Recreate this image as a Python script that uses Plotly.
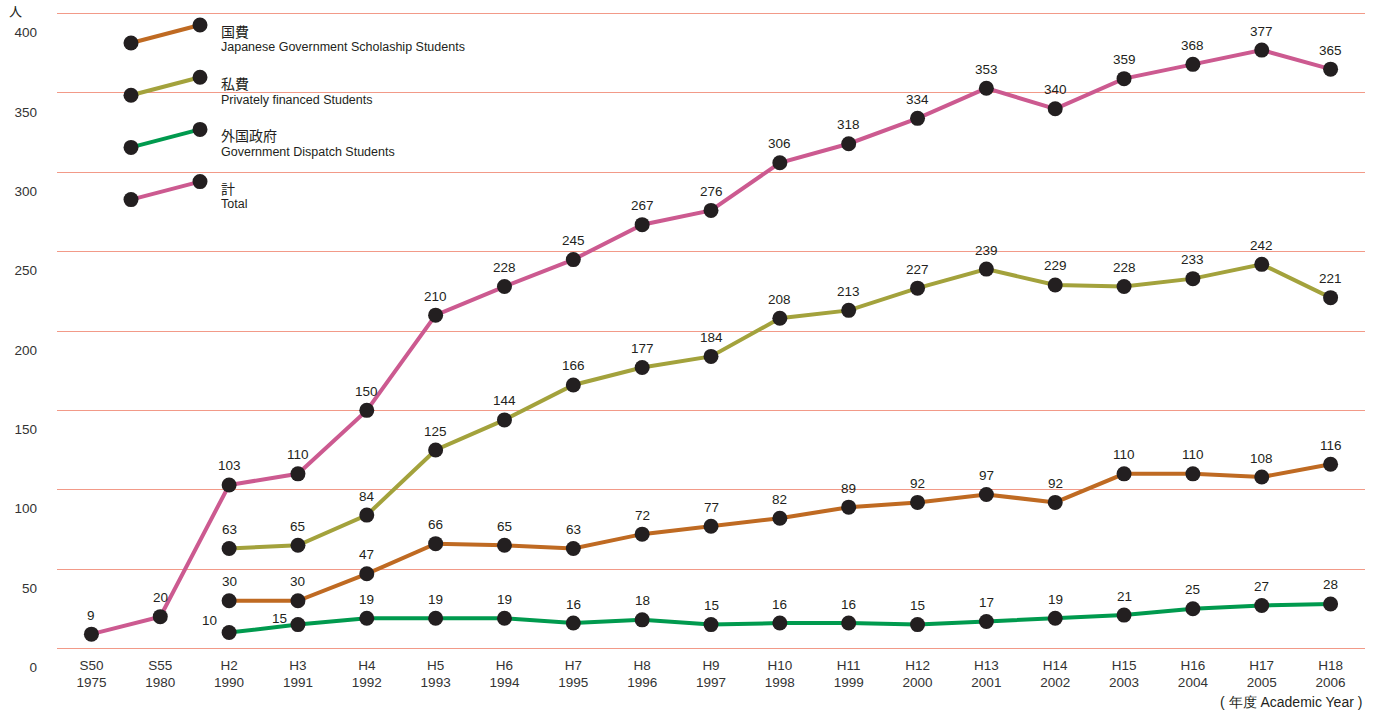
import plotly.graph_objects as go

categories = ["S50<br>1975", "S55<br>1980", "H2<br>1990", "H3<br>1991", "H4<br>1992", "H5<br>1993",
              "H6<br>1994", "H7<br>1995", "H8<br>1996", "H9<br>1997", "H10<br>1998", "H11<br>1999",
              "H12<br>2000", "H13<br>2001", "H14<br>2002", "H15<br>2003", "H16<br>2004", "H17<br>2005",
              "H18<br>2006"]

total = [9, 20, 103, 110, 150, 210, 228, 245, 267, 276, 306, 318, 334, 353, 340, 359, 368, 377, 365]
private = [None, None, 63, 65, 84, 125, 144, 166, 177, 184, 208, 213, 227, 239, 229, 228, 233, 242, 221]
govt = [None, None, 30, 30, 47, 66, 65, 63, 72, 77, 82, 89, 92, 97, 92, 110, 110, 108, 116]
dispatch = [None, None, 10, 15, 19, 19, 19, 16, 18, 15, 16, 16, 15, 17, 19, 21, 25, 27, 28]

y_ticks = [0, 50, 100, 150, 200, 250, 300, 350, 400]

series_names = ["国費", "私費", "外国政府", "計"]
series_en = ["Japanese Government Scholaship Students", "Privately financed Students",
             "Government Dispatch Students", "Total"]
colors = ["#bf6a22", "#a3a23c", "#009a4e", "#cc5a90"]
series_data = [govt, private, dispatch, total]

MARK = "#231f20"
GRID = "#f29a88"
FONT = "Liberation Sans, Arial, sans-serif"

xs = list(range(len(categories)))

fig = go.Figure()
for name, col, data in zip(series_names, colors, series_data):
    px = [x for x, v in zip(xs, data) if v is not None]
    py = [v for v in data if v is not None]
    fig.add_trace(go.Scatter(
        x=px, y=py, mode="lines+markers", name=name,
        line=dict(color=col, width=4),
        marker=dict(color=MARK, size=15),
        showlegend=False, hoverinfo="skip",
    ))

W, H = 1376, 714
L, R, T, B = 57, 11, 12, 64
pw, ph = W - L - R, H - T - B


def px2x(p):
    return (p - L) / pw


def px2y(p):
    return (H - B - p) / ph


annotations = []
# value labels
for si, data in enumerate(series_data):
    for x, v in zip(xs, data):
        if v is None:
            continue
        xshift, yshift = 0, 19
        if si == 2 and x == 2:
            xshift, yshift = -20, 12
        if si == 2 and x == 3:
            xshift, yshift = -18, 6
        annotations.append(dict(
            x=x, y=v, xref="x", yref="y", text=str(v), showarrow=False,
            xshift=xshift, yshift=yshift,
            font=dict(family=FONT, size=13.5, color=MARK),
        ))

# unit label
annotations.append(dict(xref="paper", yref="paper", x=px2x(15), y=px2y(10), xanchor="center",
                        yanchor="middle", text="人", showarrow=False,
                        font=dict(family="Noto Sans CJK JP", size=13, color=MARK)))

# x axis title
annotations.append(dict(xref="paper", yref="paper", x=px2x(1364), y=px2y(702), xanchor="right",
                        yanchor="middle", text="( 年度 Academic Year )", showarrow=False,
                        font=dict(family=FONT, size=14, color=MARK)))

# legend
shapes = []
shapes.append(dict(type="rect", xref="paper", yref="paper", x0=px2x(95), x1=px2x(500),
                   y0=px2y(215), y1=px2y(0), fillcolor="white", line=dict(width=0), layer="between"))
for i, (name, en, col) in enumerate(zip(series_names, series_en, colors)):
    oy = i * 52.2
    shapes.append(dict(type="line", xref="paper", yref="paper", x0=px2x(131), y0=px2y(43 + oy),
                       x1=px2x(200), y1=px2y(25 + oy), line=dict(color=col, width=4), layer="above"))
    for cx, cy in [(131, 43 + oy), (200, 25 + oy)]:
        shapes.append(dict(type="circle", xref="paper", yref="paper",
                           x0=px2x(cx - 7.5), x1=px2x(cx + 7.5), y0=px2y(cy + 7.5), y1=px2y(cy - 7.5),
                           fillcolor=MARK, line=dict(width=0), layer="above"))
    annotations.append(dict(xref="paper", yref="paper", x=px2x(219), y=px2y(31 + oy), xanchor="left",
                            yanchor="middle", text=name, showarrow=False,
                            font=dict(family="Noto Sans CJK JP", size=14, color=MARK)))
    annotations.append(dict(xref="paper", yref="paper", x=px2x(219), y=px2y(47.5 + oy), xanchor="left",
                            yanchor="middle", text=en, showarrow=False,
                            font=dict(family=FONT, size=12.5, color=MARK)))

fig.update_layout(
    width=W, height=H,
    margin=dict(l=L, r=R, t=T, b=B, autoexpand=False),
    paper_bgcolor="white", plot_bgcolor="white",
    font=dict(family=FONT, size=13, color=MARK),
    xaxis=dict(range=[-0.5, 18.5], tickmode="array", tickvals=xs, ticktext=categories,
               showgrid=False, zeroline=False, showline=False, ticks="", automargin=False,
               ticklabelstandoff=5,
               tickfont=dict(family=FONT, size=13.5, color="#333333")),
    yaxis=dict(range=[-1, 401], tickmode="array", tickvals=y_ticks, ticktext=[str(t) for t in y_ticks],
               showgrid=True, gridcolor=GRID, gridwidth=1, zeroline=False, showline=False, ticks="",
               automargin=False, ticklabelshift=19, ticklabelstandoff=19,
               tickfont=dict(family=FONT, size=13.5, color="#333333")),
    annotations=annotations,
    shapes=shapes,
    showlegend=False,
)

fig.write_html("out.html", config={"displayModeBar": False},
               post_script="document.body.style.margin='0';")
